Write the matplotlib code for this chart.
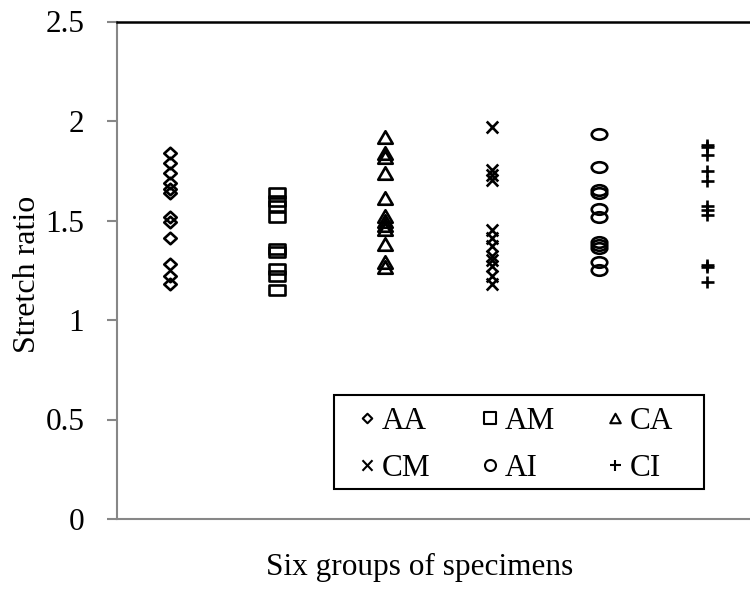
import numpy as np
import matplotlib
matplotlib.use('Agg')
import matplotlib.pyplot as plt
from matplotlib.path import Path
from matplotlib.lines import Line2D
from matplotlib.patches import Rectangle

# ---------------- data ----------------
groups = ['AA', 'AM', 'CA', 'CM', 'AI', 'CI']
aa = [1.84, 1.79, 1.74, 1.69, 1.66, 1.64, 1.52, 1.49, 1.41, 1.28, 1.22, 1.18]
am = [1.64, 1.60, 1.575, 1.52, 1.355, 1.34, 1.255, 1.22, 1.15]
ca = [1.92, 1.84, 1.82, 1.74, 1.615, 1.525, 1.50, 1.475, 1.455, 1.38, 1.29, 1.265]
cm = [1.97, 1.755, 1.73, 1.705, 1.45, 1.41, 1.37, 1.32, 1.30, 1.27, 1.22, 1.18]
ai = [1.935, 1.77, 1.655, 1.64, 1.56, 1.52, 1.39, 1.375, 1.36, 1.29, 1.25]
ci = [1.88, 1.87, 1.83, 1.75, 1.70, 1.575, 1.555, 1.53, 1.275, 1.265, 1.19]
series = [aa, am, ca, cm, ai, ci]
yticks = [0, 0.5, 1, 1.5, 2, 2.5]
yticklabels = ['0', '0.5', '1', '1.5', '2', '2.5']

# ---------------- marker shapes ----------------
def diamond(w, h):
    return Path([(0, h/2), (w/2, 0), (0, -h/2), (-w/2, 0), (0, h/2)], closed=True)

def rect(w, h):
    return Path([(-w/2, -h/2), (w/2, -h/2), (w/2, h/2), (-w/2, h/2), (-w/2, -h/2)], closed=True)

def tri(w, h):
    return Path([(0, h/2), (w/2, -h/2), (-w/2, -h/2), (0, h/2)], closed=True)

def ell(w, h):
    c = Path.unit_circle()
    return Path(c.vertices * np.array([w/2, h/2]), c.codes)

def xmark(w, h):
    return Path([(-w/2, -h/2), (w/2, h/2), (-w/2, h/2), (w/2, -h/2)],
                [Path.MOVETO, Path.LINETO, Path.MOVETO, Path.LINETO])

def plus(w, h):
    return Path([(-w/2, 0), (w/2, 0), (0, -h/2), (0, h/2)],
                [Path.MOVETO, Path.LINETO, Path.MOVETO, Path.LINETO])

PX2PT = 72 / 100.0
data_markers = [(diamond, 12.5, 11.5), (rect, 15.5, 9.5), (tri, 14.5, 12.5),
                (xmark, 11.5, 12), (ell, 15.5, 10.5), (plus, 13, 12)]
legend_markers = [(diamond, 9.5, 9.5), (rect, 11.5, 11.5), (tri, 10.5, 9.5),
                  (xmark, 10, 10.5), (ell, 11, 11), (plus, 11, 11)]

# ---------------- figure ----------------
plt.rcParams['font.family'] = ['Liberation Serif', 'DejaVu Serif']
FS = 22.5
W, H = 750, 589
fig = plt.figure(figsize=(W/100, H/100), dpi=100)
ax_left, ax_right, ax_top, ax_bot = 117, 750, 21.5, 519
ax = fig.add_axes([ax_left/W, 1 - ax_bot/H, (ax_right-ax_left)/W, (ax_bot-ax_top)/H])

xpos = np.arange(1, len(groups) + 1)
for i, (vals, (fn, w, h)) in enumerate(zip(series, data_markers)):
    ax.plot(np.full(len(vals), xpos[i]), vals, ls='none', marker=fn(w, h),
            ms=max(w, h)*PX2PT, mfc='none', mec='black', mew=1.9)

ax.set_xlim(0.506, 6.404)
ax.set_ylim(0, 2.5)
ax.set_xticks([])
ax.set_yticks(yticks)
ax.set_yticklabels(yticklabels, fontsize=FS)
gray = '#878787'
ax.tick_params(axis='y', direction='out', length=7, width=1.5, color=gray, pad=16.5)
for s in ['left', 'bottom']:
    ax.spines[s].set_color(gray)
    ax.spines[s].set_linewidth(1.5)
ax.spines['top'].set_color('black')
ax.spines['top'].set_linewidth(1.8)
ax.spines['right'].set_visible(False)

ax.set_ylabel('Stretch ratio', fontsize=23, va='center')
ax.yaxis.set_label_coords((28 - ax_left)/(ax_right-ax_left), (ax_bot - 274)/(ax_bot-ax_top))
ax.set_xlabel('Six groups of specimens', fontsize=FS, va='center')
ax.xaxis.set_label_coords((420 - ax_left)/(ax_right-ax_left), -(567 - ax_bot)/(ax_bot-ax_top))

# legend (row-wise order: AA AM CA / CM AI CI)
handles = [Line2D([], [], ls='none', marker=fn(w, h), ms=max(w, h)*PX2PT,
                  mfc='none', mec='black', mew=1.5) for fn, w, h in legend_markers]
order = [0, 3, 1, 4, 2, 5]
leg = fig.legend([handles[k] for k in order], [groups[k] for k in order], ncol=3,
                 loc='center', bbox_to_anchor=(515.5/W, 1 - 445/H), frameon=False,
                 fontsize=FS, handlelength=0.6, handletextpad=0.18,
                 columnspacing=1.6, labelspacing=0.56, borderpad=0)
frame = Rectangle((334/W, 1 - 489/H), (704-334)/W, (489-395)/H,
                  transform=fig.transFigure, fill=False, ec='black', lw=1.5)
fig.add_artist(frame)

fig.savefig('out.png', dpi=100)
